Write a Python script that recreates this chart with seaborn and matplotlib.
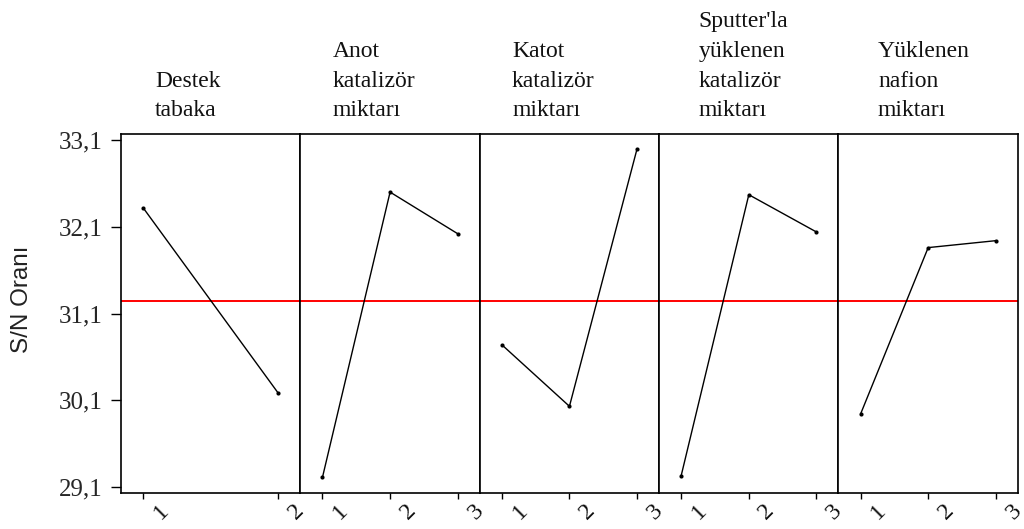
import numpy as np
import pandas as pd
import seaborn as sns
from matplotlib import pyplot as plt
from matplotlib.transforms import blended_transform_factory, offset_copy

# main effects for S/N ratio
factors = ["Destek\ntabaka",
           "Anot\nkatalizör\nmiktarı",
           "Katot\nkatalizör\nmiktarı",
           "Sputter'la\nyüklenen\nkatalizör\nmiktarı",
           "Yüklenen\nnafion\nmiktarı"]
destek = [32.32, 30.18]
anot = [29.21, 32.50, 32.02]
katot = [30.74, 30.03, 33.00]
sputter = [29.23, 32.47, 32.04]
nafion = [29.94, 31.86, 31.94]
grand_mean = 31.25

y_ticks = [29.1, 30.1, 31.1, 32.1, 33.1]
y_labels = ["29,1", "30,1", "31,1", "32,1", "33,1"]

series = [destek, anot, katot, sputter, nafion]

sns.set_style("ticks")
plt.rcParams['font.family'] = ['Liberation Serif', 'DejaVu Serif']

fig, axes = plt.subplots(1, 5, sharey=True, figsize=(10.24, 5.29), dpi=100)
fig.subplots_adjust(left=0.1182, right=0.994, top=0.7467, bottom=0.068, wspace=0)

title_x = [0.19, 0.18, 0.18, 0.22, 0.22]

for i, (ax, vals, name) in enumerate(zip(axes, series, factors)):
    n = len(vals)
    levels = np.arange(1, n + 1)
    df = pd.DataFrame({"level": levels, "sn": vals})
    ax.axhline(grand_mean, color="red", lw=1.4, zorder=1)
    sns.lineplot(data=df, x="level", y="sn", ax=ax, color="black", lw=1.0,
                 marker="o", markersize=3, markeredgewidth=0, zorder=3)
    m = 22 * (n - 1) / 135
    ax.set_xlim(1 - m, n + m)
    ax.set_xticks(levels)
    ax.set_xticklabels([])
    # slanted level labels, shifted right of the tick like the original
    trans = offset_copy(blended_transform_factory(ax.transData, ax.transAxes),
                        fig=fig, x=18, y=-19, units="dots")
    for lv in levels:
        ax.text(lv, 0, str(lv), transform=trans, rotation=45, ha="center",
                va="center", fontsize=17.5, color="#111111", clip_on=False)
    ax.tick_params(axis="x", length=4.5, width=1, color="black", pad=1)
    ax.set_xlabel("")
    ax.set_ylabel("")
    for sp in ax.spines.values():
        sp.set_visible(True)
        sp.set_color("black")
        sp.set_linewidth(1.2)
    ax.text(title_x[i], 1.035, name, transform=ax.transAxes, ha="left",
            va="bottom", fontsize=17, linespacing=1.55, color="#111111")
    if i > 0:
        ax.tick_params(axis="y", left=False, labelleft=False)

axes[0].set_ylim(29.03, 33.17)
axes[0].set_yticks(y_ticks)
axes[0].set_yticklabels(y_labels, fontsize=18)
axes[0].tick_params(axis="y", length=7, width=1, color="black", pad=6)

fig.text(22 / 1024, 1 - 299 / 529, "S/N Oranı", rotation=90, ha="center",
         va="center", fontsize=17.5, family=["Liberation Sans", "DejaVu Sans"],
         color="#222222")

fig.savefig("out.png", dpi=100)
